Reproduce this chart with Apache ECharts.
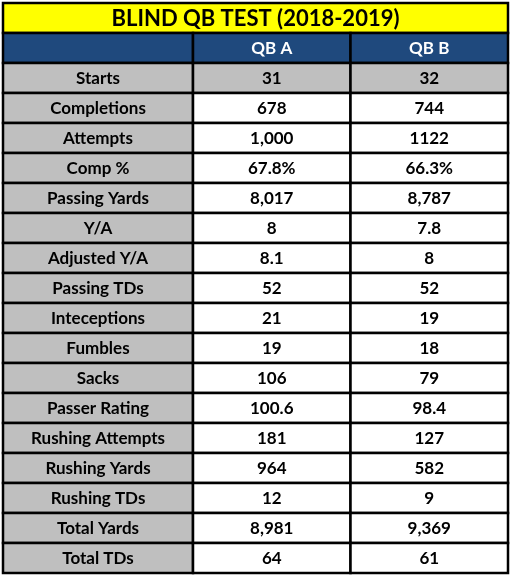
<!DOCTYPE html>
<html>
<head>
<meta charset="utf-8">
<script src="https://cdn.jsdelivr.net/npm/echarts@6/dist/echarts.min.js"></script>
<style>html,body{margin:0;padding:0;background:#fff;}#main{width:510px;height:576px;}</style>
</head>
<body>
<div id="main"></div>
<script>
var titleText = "BLIND QB TEST (2018-2019)";
var players = ["QB A", "QB B"];
var stats = ["Starts","Completions","Attempts","Comp %","Passing Yards","Y/A","Adjusted Y/A","Passing TDs","Inteceptions","Fumbles","Sacks","Passer Rating","Rushing Attempts","Rushing Yards","Rushing TDs","Total Yards","Total TDs"];
var qbA = ["31","678","1,000","67.8%","8,017","8","8.1","52","21","19","106","100.6","181","964","12","8,981","64"];
var qbB = ["32","744","1122","66.3%","8,787","7.8","8","52","19","18","79","98.4","127","582","9","9,369","61"];

var rows = [""].concat(stats);
var FONT = "bold 17px Lato, 'Open Sans', sans-serif";

function makeRender(cells) {
	return function(params, api) {
		var c = api.coord([api.value(0), api.value(1)]);
		var s = api.size([1, 1]);
		var d = cells[params.dataIndex];
		return {
			type: 'group',
			children: [
				{type: 'rect', shape: {x: c[0] - s[0] / 2, y: c[1] - s[1] / 2, width: s[0], height: s[1]},
				 style: {fill: d.fill, stroke: '#000', lineWidth: 2.5}},
				{type: 'text', x: c[0], y: c[1] + 1,
				 style: {text: d.text, fill: d.color, font: d.font || FONT, align: 'center', verticalAlign: 'middle'}}
			]
		};
	};
}

var labelCells = [], valueCells = [];
rows.forEach(function(r, i){
	var header = i == 0;
	labelCells.push({value: [0, i], text: r, fill: header ? '#1f497d' : '#bfbfbf', color: '#000'});
	for (var j = 0; j < 2; j++) {
		var txt = header ? players[j] : (j == 0 ? qbA[i - 1] : qbB[i - 1]);
		var fill = header ? '#1f497d' : (i == 1 ? '#bfbfbf' : '#fff');
		valueCells.push({value: [j, i], text: txt, fill: fill, color: header ? '#fff' : '#000'});
	}
});
var titleCells = [{value: [0, 0], text: titleText, fill: '#ffff00', color: '#000', font: "bold 22px Lato, 'Open Sans', sans-serif"}];

function seriesData(cells) {
	return cells.map(function(d){ return d.value; });
}

var myChart = echarts.init(document.getElementById('main'));
myChart.setOption({
	animation: false,
	grid: [
		{left: 3, width: 505, top: 3, height: 30},
		{left: 3, width: 190, top: 33, height: 540},
		{left: 193, width: 315, top: 33, height: 540}
	],
	xAxis: [
		{gridIndex: 0, type: 'category', data: [titleText], show: false},
		{gridIndex: 1, type: 'category', data: ['label'], show: false},
		{gridIndex: 2, type: 'category', data: players, show: false}
	],
	yAxis: [
		{gridIndex: 0, type: 'category', data: ['title'], show: false},
		{gridIndex: 1, type: 'category', data: rows, inverse: true, show: false},
		{gridIndex: 2, type: 'category', data: rows, inverse: true, show: false}
	],
	series: [
		{type: 'custom', xAxisIndex: 0, yAxisIndex: 0, renderItem: makeRender(titleCells), data: seriesData(titleCells)},
		{type: 'custom', xAxisIndex: 1, yAxisIndex: 1, renderItem: makeRender(labelCells), data: seriesData(labelCells)},
		{type: 'custom', xAxisIndex: 2, yAxisIndex: 2, renderItem: makeRender(valueCells), data: seriesData(valueCells)}
	]
});
</script>
</body>
</html>
